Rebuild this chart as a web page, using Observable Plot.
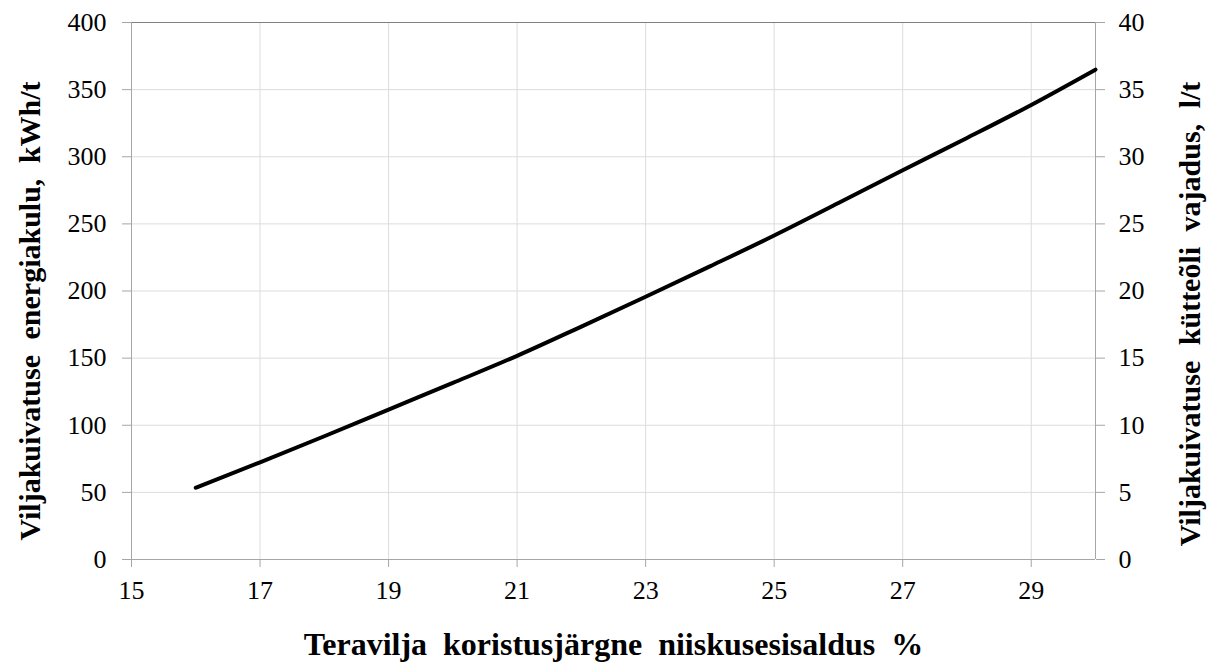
<!DOCTYPE html>
<html>
<head>
<meta charset="utf-8">
<script src="https://cdn.jsdelivr.net/npm/d3@7"></script>
<script src="https://cdn.jsdelivr.net/npm/@observablehq/plot@0.6"></script>
<style>
  html, body { margin: 0; padding: 0; background: #fff; }
  #chart svg { display: block; }
  #chart svg .title, #chart svg .title text { word-spacing: 8px; }
</style>
</head>
<body>
<div id="chart"></div>
<script>
const moisture = [16, 17, 18, 19, 20, 21, 22, 23, 24, 25, 26, 27, 28, 29, 30];
const energy   = [53.5, 72.4, 91.8, 111.7, 131.5, 151.7, 173.5, 195.7, 218.3, 241.3, 265.5, 290, 314, 338.6, 364.9];
const xTicks = [15, 17, 19, 21, 23, 25, 27, 29];
const yTicks = [0, 50, 100, 150, 200, 250, 300, 350, 400];
const xTitle = "Teravilja koristusjärgne niiskusesisaldus %";
const yLeftTitle = "Viljakuivatuse energiakulu, kWh/t";
const yRightTitle = "Viljakuivatuse kütteõli vajadus, l/t";

const data = moisture.map((m, i) => ({m, e: energy[i]}));
const font = "'Liberation Serif', 'Times New Roman', serif";

const chart = Plot.plot({
  width: 1212,
  height: 666,
  marginLeft: 131,
  marginRight: 117,
  marginTop: 22,
  marginBottom: 107,
  style: {fontFamily: font, background: "#fff"},
  x: {domain: [15, 30]},
  y: {domain: [0, 400]},
  marks: [
    Plot.gridX(xTicks, {stroke: "#dcdcdc", strokeOpacity: 1}),
    Plot.gridY(yTicks, {stroke: "#dcdcdc", strokeOpacity: 1}),
    Plot.ruleY([400], {stroke: "#808080", strokeWidth: 1.2}),
    Plot.ruleX([15], {stroke: "#a6a6a6"}),
    Plot.ruleX([30], {stroke: "#a6a6a6"}),
    Plot.ruleY([0], {stroke: "#a6a6a6"}),
    Plot.axisY(yTicks, {anchor: "left", tickSize: 9, tickPadding: 16, stroke: "#a6a6a6", fill: "#000", fontSize: 26, label: null}),
    Plot.axisY(yTicks, {anchor: "right", tickSize: 9, tickPadding: 14, stroke: "#a6a6a6", fill: "#000", fontSize: 26, label: null, tickFormat: d => String(d / 10)}),
    Plot.axisX(xTicks, {anchor: "bottom", tickSize: 8, tickPadding: 13, stroke: "#a6a6a6", fill: "#000", fontSize: 26, label: null}),
    Plot.line(data, {x: "m", y: "e", stroke: "#000", strokeWidth: 4, curve: "monotone-x"}),
    Plot.text([xTitle], {className: "title", frameAnchor: "bottom", dy: 85, fontSize: 32, fontWeight: "bold", lineAnchor: "middle"}),
    Plot.text([yLeftTitle], {className: "title", frameAnchor: "left", dx: -101, dy: 20, rotate: -90, textAnchor: "middle", fontSize: 30, fontWeight: "bold", lineAnchor: "middle"}),
    Plot.text([yRightTitle], {className: "title", frameAnchor: "right", dx: 95, dy: 23, rotate: -90, textAnchor: "middle", fontSize: 30, fontWeight: "bold", lineAnchor: "middle"})
  ]
});
document.getElementById("chart").appendChild(chart);
</script>
</body>
</html>
